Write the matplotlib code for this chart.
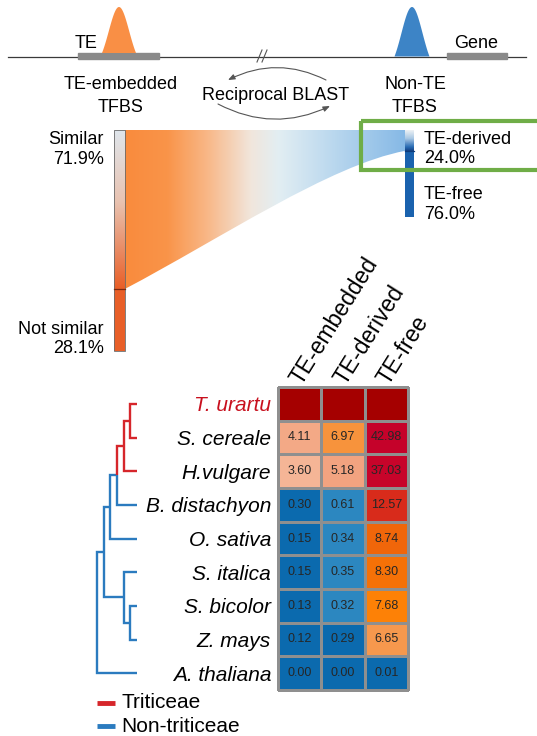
import numpy as np
import matplotlib
matplotlib.use("Agg")
import matplotlib.pyplot as plt
from matplotlib.colors import LinearSegmentedColormap, FuncNorm
from matplotlib.patches import Rectangle, PathPatch, FancyArrowPatch
from matplotlib.path import Path

plt.rcParams['font.family'] = ['Liberation Sans', 'DejaVu Sans']

# ---------------- data ----------------
species = ["T. urartu", "S. cereale", "H.vulgare", "B. distachyon", "O. sativa",
           "S. italica", "S. bicolor", "Z. mays", "A. thaliana"]
tfbs_classes = ["TE-embedded", "TE-derived", "TE-free"]
te_embedded = [100.0, 4.11, 3.60, 0.30, 0.15, 0.15, 0.13, 0.12, 0.00]
te_derived = [100.0, 6.97, 5.18, 0.61, 0.34, 0.35, 0.32, 0.29, 0.00]
te_free = [100.0, 42.98, 37.03, 12.57, 8.74, 8.30, 7.68, 6.65, 0.01]
reference = "T. urartu"
triticeae = ["T. urartu", "S. cereale", "H.vulgare"]
tree = ((((((("T. urartu", "S. cereale"), "H.vulgare"), "B. distachyon"), "O. sativa"),
          ("S. italica", ("S. bicolor", "Z. mays"))), "A. thaliana"))

similar_pct = 71.9
not_similar_pct = 28.1
te_derived_pct = 24.0
te_free_pct = 76.0

# ---------------- figure ----------------
W, H = 537, 736
fig = plt.figure(figsize=(W / 100, H / 100), dpi=100)
base = fig.add_axes([0, 0, 1, 1])
base.set_xlim(0, W)
base.set_ylim(H, 0)
base.axis('off')


def box(x0, y0, x1, y1):
    return [x0 / W, 1 - y1 / H, (x1 - x0) / W, (y1 - y0) / H]


RED = '#d6262b'
BLUE = '#2b7bbf'
FS = 13

# ---------------- schematic on top ----------------
base.plot([8, 526], [56.5, 56.5], color='#3a3a3a', lw=0.9, zorder=1)
base.add_patch(Rectangle((78, 53), 81, 6, color='#8a8a8a', zorder=2))
base.add_patch(Rectangle((447, 53), 60, 6, color='#8a8a8a', zorder=2))


def peak(cx, half, y_base, y_top, color):
    t = np.linspace(-1, 1, 160)
    g = np.exp(-t ** 2 / (2 * 0.6 ** 2))
    g = (g - g[0]) / (1 - g[0])
    xs = cx + half * t
    ys = y_base - (y_base - y_top) * g
    base.fill(xs, ys, color=color, lw=0, zorder=3)


peak(119, 17, 53, 7, '#f98f45')
peak(412, 17.5, 56.5, 7, '#3d84c6')

base.plot([257, 262], [62, 50], color='#555555', lw=0.8)
base.plot([262, 267], [62, 50], color='#555555', lw=0.8)

base.text(75, 48, "TE", fontsize=FS, va='baseline', ha='left')
base.text(454, 48, "Gene", fontsize=FS, va='baseline', ha='left')
base.text(121, 89, "TE-embedded", fontsize=FS, va='baseline', ha='center')
base.text(121, 111.5, "TFBS", fontsize=FS, va='baseline', ha='center')
base.text(415, 89, "Non-TE", fontsize=FS, va='baseline', ha='center')
base.text(415, 111.5, "TFBS", fontsize=FS, va='baseline', ha='center')
base.text(276, 100, "Reciprocal BLAST", fontsize=FS, va='baseline', ha='center')

for p0, p1 in [((326, 80), (228, 80)), ((218, 104), (330, 106))]:
    base.add_patch(FancyArrowPatch(p0, p1, connectionstyle='arc3,rad=0.25',
                                   arrowstyle='-|>,head_length=0.5,head_width=0.2',
                                   mutation_scale=8, lw=0.8, color='#555555',
                                   shrinkA=0, shrinkB=0))

# ---------------- similarity flow ----------------
top = 130
lx0, lx1, l_bottom = 114, 125, 351
rx0, rx1, r_bottom = 405, 414, 217
yl = top + (l_bottom - top) * similar_pct / (similar_pct + not_similar_pct)
yr = top + (r_bottom - top) * te_derived_pct / (te_derived_pct + te_free_pct)

band_path = Path([(lx1, top), (rx0, top), (rx0, yr), (330, yr + 14), (220, yl - 50), (lx1, yl), (lx1, top)],
                 [Path.MOVETO, Path.LINETO, Path.LINETO, Path.CURVE4, Path.CURVE4, Path.CURVE4, Path.CLOSEPOLY])
band_patch = PathPatch(band_path, facecolor='none', edgecolor='none')
base.add_patch(band_patch)
flow_cmap = LinearSegmentedColormap.from_list('flow', [
    (0.0, '#f98b3d'), (0.15, '#fa9449'), (0.3, '#f8b98a'), (0.45, '#f1e6dc'),
    (0.55, '#e2eef3'), (0.75, '#b9d7ee'), (1.0, '#86b9e6')])
grad = np.linspace(0, 1, 256)[None, :]
im = base.imshow(grad, cmap=flow_cmap, extent=[lx1, rx0, yl, top], aspect='auto', zorder=1)
im.set_clip_path(band_patch)

# left bar (TE-embedded TFBS)
left_cmap = LinearSegmentedColormap.from_list('lbar', [
    (0.0, '#dfe6ec'), (0.45, '#e9c3b1'), (1.0, '#e85e26')])
vgrad = np.linspace(0, 1, 256)[:, None]
base.imshow(vgrad, cmap=left_cmap, extent=[lx0, lx1, yl, top], aspect='auto', zorder=2)
base.add_patch(Rectangle((lx0, yl), lx1 - lx0, l_bottom - yl, color='#e85f28', lw=0, zorder=2))
base.add_patch(Rectangle((lx0, top), lx1 - lx0, l_bottom - top, fill=False,
                         edgecolor='#6a6a6a', lw=0.6, zorder=3))
base.plot([lx0, lx1], [yl, yl], color='#7a2810', lw=0.9, zorder=3)

# right bar (non-TE TFBS)
right_cmap = LinearSegmentedColormap.from_list('rbar', [
    (0.0, '#eef2f4'), (0.4, '#a9c8e4'), (0.8, '#2a6cb4'), (1.0, '#123f82')])
base.imshow(vgrad, cmap=right_cmap, extent=[rx0, rx1, yr, top], aspect='auto', zorder=2)
base.add_patch(Rectangle((rx0, yr), rx1 - rx0, r_bottom - yr, color='#1a62ae', lw=0, zorder=2))
base.plot([rx0, rx1], [yr, yr], color='#0d3b7a', lw=0.9, zorder=3)

base.set_xlim(0, W)
base.set_ylim(H, 0)

base.text(104, 144, "Similar", fontsize=FS, ha='right', va='baseline')
base.text(104, 164, f"{similar_pct:.1f}%", fontsize=FS, ha='right', va='baseline')
base.text(104, 334, "Not similar", fontsize=FS, ha='right', va='baseline')
base.text(104, 353, f"{not_similar_pct:.1f}%", fontsize=FS, ha='right', va='baseline')
base.text(424, 144, "TE-derived", fontsize=FS, ha='left', va='baseline')
base.text(424, 163, f"{te_derived_pct:.1f}%", fontsize=FS, ha='left', va='baseline')
base.text(424, 199, "TE-free", fontsize=FS, ha='left', va='baseline')
base.text(424, 219, f"{te_free_pct:.1f}%", fontsize=FS, ha='left', va='baseline')

base.add_patch(Rectangle((361, 121), 200, 49, fill=False, edgecolor='#6fad47', lw=3, zorder=6))

# ---------------- heatmap ----------------
hx0, hy0, hx1, hy1 = 278, 387, 408, 690
hm = fig.add_axes(box(hx0, hy0, hx1, hy1))
data = np.column_stack([te_embedded, te_derived, te_free])

anchor_vals = [0, 0.31, 0.3101, 1.0, 3.0, 4.0, 5.5, 6.5, 7.0, 7.7, 8.5, 10.0, 13.0, 30.0, 50.0, 100.0]
anchor_cols = ['#0b6aae', '#0b6aae', '#2c87c0', '#2c87c0', '#f8c6ac', '#f3a987', '#f2a27e',
               '#f59b55', '#f7923a', '#fd8004', '#f26c08', '#e44a14', '#d6261c', '#c9062a',
               '#c3002a', '#a50000']
pos = np.linspace(0, 1, len(anchor_vals))
heat_cmap = LinearSegmentedColormap.from_list('heat', list(zip(pos, anchor_cols)), N=2048)
heat_norm = FuncNorm((lambda v: np.interp(v, anchor_vals, pos),
                      lambda p: np.interp(p, pos, anchor_vals)), vmin=0, vmax=100)
mesh = hm.pcolormesh(data, cmap=heat_cmap, norm=heat_norm, edgecolors='#8f8f8f', linewidth=0.8)
mesh.set_clip_on(False)
hm.set_xlim(0, data.shape[1])
hm.set_ylim(data.shape[0], 0)
for s in hm.spines.values():
    s.set_visible(False)

for i, name in enumerate(species):
    if name == reference:
        continue
    for j in range(data.shape[1]):
        hm.text(j + 0.5, i + 0.5, f"{data[i, j]:.2f}", ha='center', va='center',
                fontsize=9, color='#262626')

hm.set_xticks([])
hm.set_yticks(np.arange(len(species)) + 0.5)
hm.set_yticklabels(species, fontstyle='italic', fontsize=15)
hm.tick_params(axis='y', length=0, pad=5)
for lab in hm.get_yticklabels():
    if lab.get_text() == reference:
        lab.set_color('#c8101e')

col_w = (hx1 - hx0) / len(tfbs_classes)
for j, name in enumerate(tfbs_classes):
    cx = hx0 + (j + 0.5) * col_w
    base.text(cx + 2, hy0 - 1, name, fontsize=16.5, rotation=58, rotation_mode='anchor',
              ha='left', va='baseline')

# ---------------- tree ----------------
tip_px, step_px, tx0, tx1 = 137, 6.7, 86, 140
tr = fig.add_axes(box(tx0, hy0, tx1, hy1))
tr.set_xlim((tx0 - tip_px) / step_px, (tx1 - tip_px) / step_px)
tr.set_ylim(len(species), 0)
tr.axis('off')


def layout(node):
    if isinstance(node, str):
        return {'h': 0, 'y': species.index(node) + 0.5, 'kids': [], 'tri': node in triticeae}
    kids = [layout(k) for k in node]
    return {'h': max(k['h'] for k in kids) + 1,
            'y': float(np.mean([k['y'] for k in kids])),
            'kids': kids,
            'tri': all(k['tri'] for k in kids)}


def draw(node):
    for k in node['kids']:
        c = RED if k['tri'] else BLUE
        tr.plot([-node['h'], -node['h'], -k['h']], [node['y'], k['y'], k['y']],
                color=c, lw=1.7, solid_joinstyle='miter', solid_capstyle='butt', clip_on=False)
        draw(k)


draw(layout(tree))

# ---------------- legend ----------------
for y, c, lab in [(703, RED, "Triticeae"), (726, BLUE, "Non-triticeae")]:
    base.plot([97, 115], [y, y], color=c, lw=3.5, solid_capstyle='butt')
    base.text(121, y + 5.5, lab, fontsize=15, va='baseline', ha='left')

fig.savefig("out.png", dpi=100)
